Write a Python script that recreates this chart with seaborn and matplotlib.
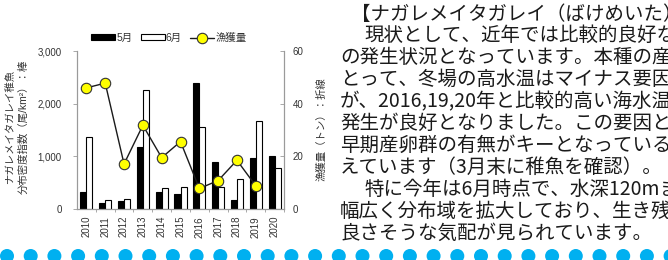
import numpy as np
import pandas as pd
import matplotlib
matplotlib.use("Agg")
import matplotlib.pyplot as plt
import seaborn as sns
from matplotlib.patches import Circle

# ---------------- data ----------------
years = ["2010", "2011", "2012", "2013", "2014", "2015", "2016", "2017", "2018", "2019", "2020"]
may_density = [320, 110, 158, 1185, 328, 290, 2400, 900, 170, 977, 1015]
june_density = [1360, 175, 189, 2268, 397, 422, 1550, 422, 561, 1676, 781]
catch_tons = [46.0, 47.8, 17.1, 31.8, 19.5, 25.6, 7.8, 10.8, 18.5, 8.8, np.nan]
months = ["5月", "6月"]
catch_name = "漁獲量"
left_ticks = [0, 1000, 2000, 3000]
right_ticks = [0, 20, 40, 60]
left_label = "ナガレメイタガレイ稚魚\n分布密度指数（尾/km²）：棒"
right_label = "漁獲量（トン）：折線"
body_lines = [
    "【ナガレメイタガレイ（ばけめいた）】",
    "現状として、近年では比較的良好な稚魚",
    "の発生状況となっています。本種の産卵に",
    "とって、冬場の高水温はマイナス要因です",
    "が、2016,19,20年と比較的高い海水温でも",
    "発生が良好となりました。この要因として",
    "早期産卵群の有無がキーとなっていると考",
    "えています（3月末に稚魚を確認）。",
    "特に今年は6月時点で、水深120mまで",
    "幅広く分布域を拡大しており、生き残りも",
    "良さそうな気配が見られています。",
]
body_x = [351, 364, 340, 340, 340, 340, 340, 340, 364, 340, 340]

# ---------------- style ----------------
sns.set_theme(style="white")
plt.rcParams["font.family"] = ["Liberation Sans", "Noto Sans CJK JP", "DejaVu Sans"]
W, H = 668, 260
fig = plt.figure(figsize=(W / 100, H / 100), dpi=100)

# background overlay for decorative dots
bg = fig.add_axes([0, 0, 1, 1], zorder=-1)
bg.set_xlim(0, W)
bg.set_ylim(H, 0)
bg.axis("off")
for k in range(30):
    bg.add_patch(Circle((7 + 23.7 * k, 256), 7, color="#00B0F0", lw=0))

# chart axes
ax = fig.add_axes([77 / W, 1 - 209 / H, (284 - 77) / W, (209 - 51) / H])
bars = pd.DataFrame({
    "year": years * 2,
    "density": may_density + june_density,
    "month": [months[0]] * len(years) + [months[1]] * len(years),
})
sns.barplot(data=bars, x="year", y="density", hue="month", hue_order=months,
            order=years, palette={months[0]: "black", months[1]: "white"},
            edgecolor="black", linewidth=0.8, width=0.64, gap=0, ax=ax)
ax.set_ylim(0, 3000)
ax.set_yticks(left_ticks)
ax.set_yticklabels([f"{v:,}" for v in left_ticks])
ax.set_xlabel("")
ax.set_ylabel("")

ax2 = ax.twinx()
line = pd.DataFrame({"pos": np.arange(len(years)), "catch": catch_tons}).dropna()
sns.lineplot(data=line, x="pos", y="catch", ax=ax2, color="#1a1a1a", lw=1.0,
             marker="o", markersize=7.5, markerfacecolor="#FFFF00",
             markeredgecolor="#333333", markeredgewidth=0.8, label=catch_name)
ax2.set_ylim(0, 60)
ax2.set_yticks(right_ticks)
ax2.set_xlim(-0.5, len(years) - 0.5)
ax.set_xlim(-0.5, len(years) - 0.5)
ax2.set_xlabel("")
ax2.set_ylabel("")

for a in (ax, ax2):
    for s in a.spines.values():
        s.set_color("#9a9a9a")
        s.set_linewidth(0.8)
    a.spines["top"].set_visible(False)
ax.tick_params(axis="y", length=3, width=0.6, color="#9a9a9a", pad=8,
               labelsize=7, labelcolor="#333333", left=True, direction="out")
ax2.tick_params(axis="y", length=3, width=0.6, color="#9a9a9a", pad=6,
                labelsize=7, labelcolor="#333333", right=True, direction="in")
ax.tick_params(axis="x", length=0, pad=5, labelsize=7, labelcolor="#333333",
               labelrotation=90)
ax.set_xticks(np.arange(len(years)) + 0.5, minor=True)
ax.tick_params(axis="x", which="minor", length=2, width=0.6, color="#9a9a9a",
               bottom=True)

# legend
h1, l1 = ax.get_legend_handles_labels()
h2, l2 = ax2.get_legend_handles_labels()
for a in (ax, ax2):
    if a.get_legend() is not None:
        a.get_legend().remove()
fig.legend(h1 + h2, l1 + l2, loc="center", bbox_to_anchor=(169 / W, 1 - 38 / H),
           ncol=3, frameon=False, fontsize=7.5, handlelength=2.3, handleheight=0.5,
           handletextpad=0.1, columnspacing=0.8, labelcolor="#333333")

# axis titles
fig.text(17 / W, 1 - 127 / H, left_label, rotation=90, ha="center", va="center",
         fontsize=7.5, color="#333333", linespacing=1.35, multialignment="center")
fig.text(322 / W, 1 - 129 / H, right_label, rotation=90, ha="center", va="center",
         fontsize=7.5, color="#333333")

# body text
for i, (txt, x) in enumerate(zip(body_lines, body_x)):
    y = 14 + i * 21.9
    fig.text(x / W, 1 - y / H, txt, ha="left", va="center", fontsize=14,
             color="#1a1a1a", family=["Noto Sans CJK JP", "DejaVu Sans"])

fig.savefig("out.png", dpi=100)
